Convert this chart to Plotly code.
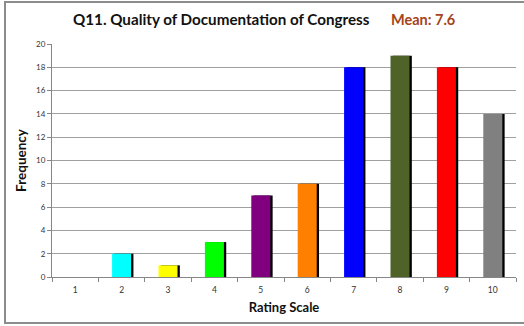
import plotly.graph_objects as go

categories = ["1", "2", "3", "4", "5", "6", "7", "8", "9", "10"]
frequency = [0, 2, 1, 3, 7, 8, 18, 19, 18, 14]
bar_colors = ["#00FFFF", "#00FFFF", "#FFFF00", "#00FF00", "#800080",
              "#FF8000", "#0000FF", "#4F6228", "#FF0000", "#808080"]
title_text = "Q11. Quality of Documentation of Congress"
mean_text = "Mean: 7.6"
y_ticks = list(range(0, 21, 2))

FONT = "Lato"
bw = 0.41

fig = go.Figure()
# shadow
fig.add_trace(go.Bar(x=categories, y=frequency, width=bw, offset=-bw / 2 + 0.05,
                     marker=dict(color="#000000", line=dict(width=0)),
                     hoverinfo="skip", showlegend=False))
fig.add_trace(go.Bar(x=categories, y=frequency, width=bw, offset=-bw / 2,
                     marker=dict(color=bar_colors, line=dict(width=0)),
                     showlegend=False))

fig.update_layout(
    width=524, height=326,
    margin=dict(l=52, r=8, t=44, b=49),
    paper_bgcolor="white", plot_bgcolor="white",
    barmode="overlay",
    font=dict(family=FONT, color="#222222"),
    xaxis=dict(type="category", tickson="boundaries", ticks="outside", ticklen=4,
               tickcolor="#868686", showline=True, linecolor="#868686", linewidth=1,
               showgrid=False, tickfont=dict(size=8.5, color="#333333"),
               ticklabelstandoff=5,
               title=dict(text="<b>Rating Scale</b>", font=dict(size=13, color="#111111"), standoff=8)),
    yaxis=dict(range=[0, 20], tickvals=y_ticks, ticks="outside", ticklen=4,
               tickcolor="#868686", showline=True, linecolor="#868686", linewidth=1,
               showgrid=True, gridcolor="#A0A0A0", gridwidth=1, zeroline=False,
               tickfont=dict(size=8, color="#333333"),
               title=dict(text="<b>Frequency</b>", font=dict(size=13.5, color="#111111"), standoff=6)),
    annotations=[
        dict(text="<b>" + title_text + "</b>", xref="paper", yref="paper",
             x=(221.5 - 52) / 464, y=(277 - 19) / 233, xanchor="center", yanchor="middle",
             showarrow=False, font=dict(size=15.2, color="#111111", family=FONT)),
        dict(text="<b>" + mean_text + "</b>", xref="paper", yref="paper",
             x=(423 - 52) / 464, y=(277 - 19) / 233, xanchor="center", yanchor="middle",
             showarrow=False, font=dict(size=14.5, color="#A5431A", family=FONT)),
    ],
    shapes=[dict(type="rect", xref="paper", yref="paper",
                 x0=(5 - 52) / 464, x1=(530 - 52) / 464,
                 y0=(277 - 323) / 233, y1=(277 - 2) / 233,
                 line=dict(color="#8C8C8C", width=2), fillcolor="rgba(0,0,0,0)", layer="below")],
)

fig.write_html("out.html")
